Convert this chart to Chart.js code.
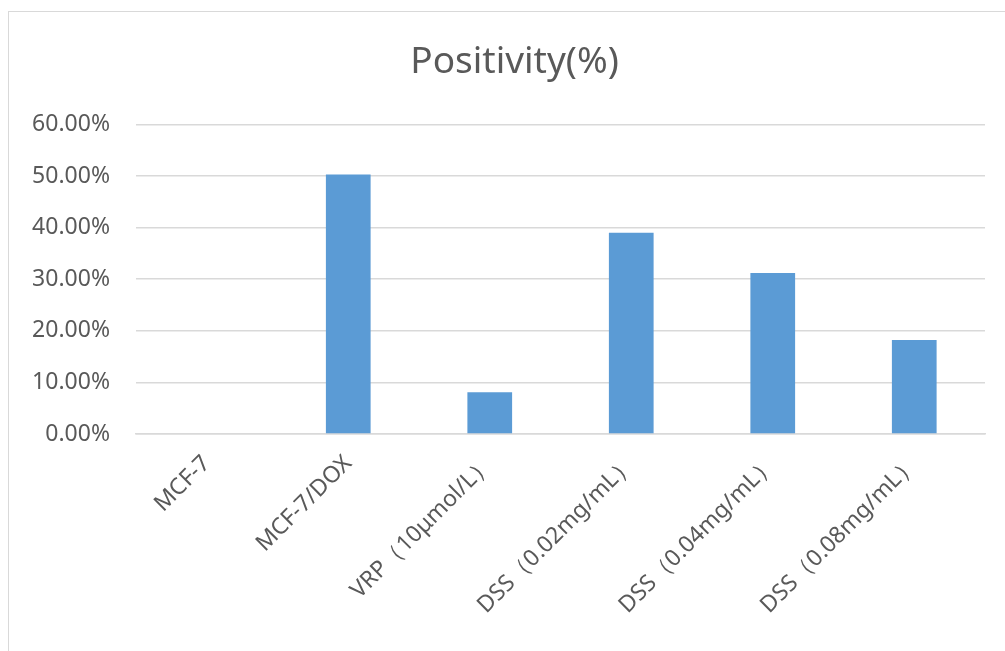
<!DOCTYPE html>
<html>
<head>
<meta charset="utf-8">
<script src="https://cdn.jsdelivr.net/npm/chart.js@4/dist/chart.umd.min.js"></script>
<style>
  html, body { margin: 0; padding: 0; background: #fff; overflow: hidden; }
  #wrap { position: absolute; left: 0; top: 0; width: 1005px; height: 651px; }
  #frame {
    position: absolute; left: 8px; top: 11px; width: 1020px; height: 660px;
    border: 1.5px solid #d9d9d9; pointer-events: none;
  }
</style>
</head>
<body>
<div id="wrap"><canvas id="chart"></canvas></div>
<div id="frame"></div>
<script>
const categories = ['MCF-7', 'MCF-7/DOX', 'VRP（10μmol/L）', 'DSS（0.02mg/mL）', 'DSS（0.04mg/mL）', 'DSS（0.08mg/mL）'];
const positivity = [0, 50.3, 8.1, 39.0, 31.2, 18.2];
const yTicks = [0, 10, 20, 30, 40, 50, 60];

const textColor = '#595959';
const gridColor = '#d9d9d9';
const fontFamily = '"Noto Sans", "Open Sans", sans-serif';

// the title is centred on the whole framed box, not on the plot, so nudge it right
const titleShift = {
    id: 'titleShift',
    afterLayout(chart) {
        const t = chart.titleBlock;
        if (t) { t.left += 22; t.right += 22; }
    }
};

const ctx = document.getElementById('chart').getContext('2d');
new Chart(ctx, {
    type: 'bar',
    data: {
        labels: categories,
        datasets: [{
            label: 'Positivity(%)',
            data: positivity,
            backgroundColor: '#5b9bd5',
            borderWidth: 0,
            barPercentage: 0.316,
            categoryPercentage: 1
        }]
    },
    options: {
        responsive: true,
        maintainAspectRatio: false,
        animation: false,
        layout: { padding: { left: 0, right: 20, top: 0, bottom: 0 } },
        plugins: {
            legend: { display: false },
            tooltip: { enabled: false },
            title: {
                display: true,
                text: 'Positivity(%)',
                color: textColor,
                font: { family: fontFamily, size: 37, weight: 'normal' },
                padding: { top: 40, bottom: 40 }
            }
        },
        scales: {
            x: {
                grid: { display: false },
                border: { display: true, color: gridColor, width: 1.5 },
                ticks: {
                    color: textColor,
                    font: { family: fontFamily, size: 23 },
                    minRotation: 45,
                    maxRotation: 45,
                    padding: 8,
                    autoSkip: false
                },
                afterFit: s => { s.height = 217; }
            },
            y: {
                min: 0,
                max: 60,
                afterBuildTicks: s => { s.ticks = yTicks.map(v => ({ value: v })); },
                grid: { color: gridColor, lineWidth: 1.5, drawTicks: false },
                border: { display: false },
                ticks: {
                    color: textColor,
                    font: { family: fontFamily, size: 23 },
                    padding: 26,
                    callback: v => v.toFixed(2) + '%'
                },
                afterFit: s => { s.width = 136; }
            }
        }
    },
    plugins: [titleShift]
});
</script>
</body>
</html>
